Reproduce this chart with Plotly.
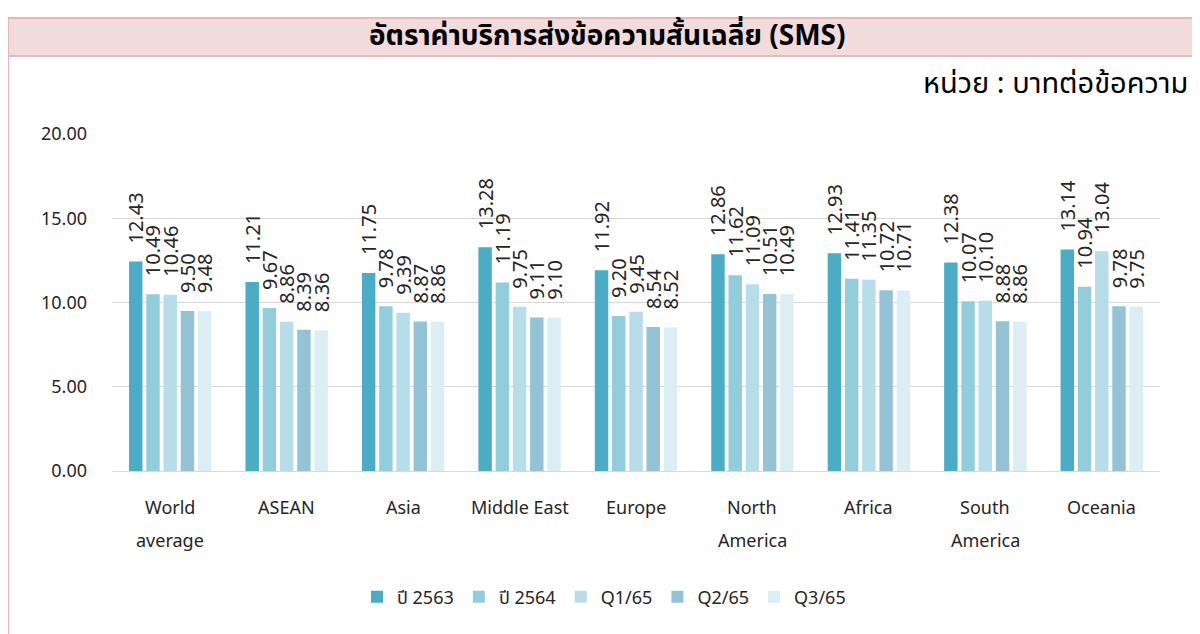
import plotly.graph_objects as go

categories = ["World<br>average", "ASEAN", "Asia", "Middle East", "Europe",
              "North<br>America", "Africa", "South<br>America", "Oceania"]
series_names = ["ปี 2563", "ปี 2564", "Q1/65", "Q2/65", "Q3/65"]
v2563 = [12.43, 11.21, 11.75, 13.28, 11.92, 12.86, 12.93, 12.38, 13.14]
v2564 = [10.49, 9.67, 9.78, 11.19, 9.20, 11.62, 11.41, 10.07, 10.94]
q1_65 = [10.46, 8.86, 9.39, 9.75, 9.45, 11.09, 11.35, 10.10, 13.04]
q2_65 = [9.50, 8.39, 8.87, 9.11, 8.54, 10.51, 10.72, 8.88, 9.78]
q3_65 = [9.48, 8.36, 8.86, 9.10, 8.52, 10.49, 10.71, 8.86, 9.75]
y_ticks = [0, 5, 10, 15, 20]

colors = ["#4BACC6", "#92CDDC", "#B7DEE8", "#93C3D4", "#DAEEF3"]
FONT = "Noto Sans Thai, Leelawadee UI, Noto Sans, Open Sans, sans-serif"
LFONT = "Noto Sans, Noto Sans Thai, Open Sans, sans-serif"

fig = go.Figure()
for name, vals, c in zip(series_names, [v2563, v2564, q1_65, q2_65, q3_65], colors):
    fig.add_trace(go.Bar(
        name=name, x=categories, y=vals, marker_color=c, marker_line_width=0,
        text=["\u2002\u2005" + f"{v:.2f}" for v in vals], textposition="outside", textangle=-90,
        constraintext="none", cliponaxis=False,
        textfont=dict(size=20, color="#262626", family=LFONT),
    ))

# page offset (body margin) of 8px
OFF = 8
W, H = 1192, 626
L, T = 112 - OFF, 134 - OFF
R = W - (1160 - OFF)
B = H - (471 - OFF)
pw, ph = W - L - R, H - T - B
def px(x):
    return (x - OFF - L) / pw
def py(y):
    return (H - B - (y - OFF)) / ph

annotations = [
    dict(text="<b>อัตราค่าบริการส่งข้อความสั้นเฉลี่ย (SMS)</b>", xref="paper", yref="paper",
         x=px(607), y=py(37), xanchor="center", yanchor="middle", showarrow=False,
         font=dict(size=28, color="#000000", family=FONT)),
    dict(text="หน่วย : บาทต่อข้อความ", xref="paper", yref="paper",
         x=px(1190), y=py(84), xanchor="right", yanchor="middle", showarrow=False,
         font=dict(size=29, color="#000000", family=FONT)),
]
for cat in categories:
    for i, line in enumerate(cat.split("<br>")):
        annotations.append(dict(text=line, xref="x", yref="paper", x=cat,
                                y=py(507 + 33 * i), xanchor="center", yanchor="middle",
                                showarrow=False,
                                font=dict(size=18, color="#262626", family=LFONT)))

fig.update_layout(
    width=W, height=H, barmode="group", bargap=0.26, bargroupgap=0.22,
    plot_bgcolor="white", paper_bgcolor="white",
    margin=dict(l=L, r=R, t=T, b=B),
    font=dict(family=LFONT, color="#262626"),
    showlegend=True,
    legend=dict(orientation="h", x=px(604), xanchor="center", y=py(597), yanchor="middle",
                font=dict(size=18, color="#262626", family=LFONT), traceorder="normal"),
    xaxis=dict(showgrid=False, showline=True, linecolor="#D9D9D9", linewidth=1,
               showticklabels=False),
    yaxis=dict(range=[0, 20], tickvals=y_ticks, tickformat=".2f", showgrid=True,
               gridcolor="#D9D9D9", gridwidth=1, zeroline=False, showline=False,
               tickfont=dict(size=18, color="#262626", family=LFONT), ticklabelstandoff=24),
    shapes=[
        dict(type="rect", xref="paper", yref="paper", x0=px(8), x1=px(1215),
             y0=py(56), y1=py(18), fillcolor="#F2DCDB", line=dict(color="#E6B9B8", width=2),
             layer="below"),
        dict(type="line", xref="paper", yref="paper", x0=px(8), x1=px(8),
             y0=py(56), y1=py(650), line=dict(color="#E6B9B8", width=2)),
    ],
    annotations=annotations,
)

fig.write_html("out.html")
